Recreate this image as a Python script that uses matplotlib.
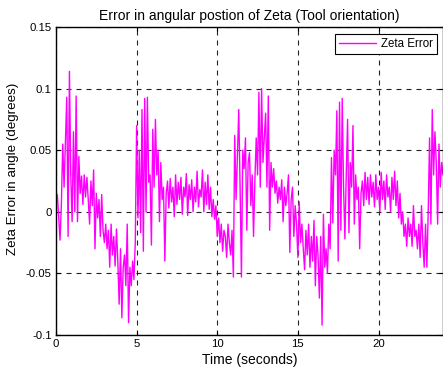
import matplotlib
matplotlib.use("Agg")
import matplotlib.pyplot as plt
import numpy as np

plt.rcParams['font.family'] = ['Liberation Sans', 'DejaVu Sans']

# Zeta error values, 12 samples per second
sec00 = [0.005, 0.014, -0.005, -0.023, 0.006, 0.055, 0.020, 0.058, 0.093, -0.020, 0.114, 0.030]
sec01 = [-0.008, 0.065, 0.000, 0.094, -0.008, 0.045, 0.015, 0.029, 0.006, 0.030, 0.012, 0.028]
sec02 = [0.010, -0.010, 0.025, 0.005, 0.034, -0.030, 0.015, -0.005, 0.010, -0.020, 0.014, -0.015]
sec03 = [-0.025, -0.010, -0.030, -0.015, -0.045, -0.010, -0.035, -0.020, -0.044, -0.014, -0.040, -0.075]
sec04 = [-0.030, -0.086, -0.045, -0.035, -0.060, -0.010, -0.090, -0.045, -0.060, -0.040, -0.055, -0.025]
sec05 = [0.070, -0.005, 0.050, -0.017, 0.083, -0.032, 0.092, 0.000, 0.093, 0.024, 0.030, -0.027]
sec06 = [0.067, 0.020, 0.075, 0.030, 0.050, -0.008, 0.040, 0.010, 0.020, -0.040, 0.015, 0.025]
sec07 = [0.003, 0.027, 0.008, 0.020, -0.004, 0.030, 0.006, 0.024, 0.010, 0.028, -0.002, 0.020]
sec08 = [0.012, 0.031, -0.003, 0.022, 0.010, 0.026, 0.000, 0.020, 0.008, 0.033, 0.004, 0.018]
sec09 = [0.012, 0.034, 0.000, 0.024, 0.006, 0.030, 0.002, 0.020, -0.004, 0.010, -0.006, 0.005]
sec10 = [-0.020, -0.005, -0.025, -0.010, -0.032, -0.015, -0.020, -0.037, -0.010, -0.025, -0.035, -0.015]
sec11 = [-0.053, 0.062, 0.010, 0.045, 0.083, 0.020, -0.053, 0.050, 0.035, 0.060, -0.015, 0.040]
sec12 = [0.048, 0.005, 0.030, -0.020, 0.025, 0.060, 0.030, 0.097, 0.020, 0.100, 0.040, 0.060]
sec13 = [0.080, 0.020, 0.094, -0.015, 0.040, 0.020, 0.035, 0.015, 0.025, 0.007, 0.020, 0.010]
sec14 = [0.026, -0.008, 0.020, 0.005, 0.015, 0.030, -0.033, 0.010, 0.020, -0.020, 0.005, -0.010]
sec15 = [-0.037, 0.008, -0.025, -0.010, -0.030, -0.047, -0.015, -0.035, -0.010, -0.045, -0.020, -0.040]
sec16 = [-0.007, -0.060, -0.020, -0.035, -0.070, -0.020, -0.092, -0.002, -0.045, -0.030, -0.050, -0.010]
sec17 = [-0.030, 0.044, -0.009, 0.050, 0.030, 0.082, -0.040, 0.089, -0.015, 0.092, 0.020, -0.022]
sec18 = [0.030, 0.075, -0.017, 0.040, 0.020, 0.070, -0.010, 0.030, 0.010, 0.020, -0.030, 0.015]
sec19 = [0.025, 0.005, 0.032, 0.010, 0.028, 0.006, 0.030, 0.012, 0.024, 0.004, 0.030, 0.010]
sec20 = [0.020, 0.000, 0.032, 0.010, 0.025, 0.002, 0.030, 0.012, 0.020, 0.000, 0.028, 0.010]
sec21 = [0.033, 0.005, 0.025, -0.005, 0.015, -0.010, 0.000, -0.020, -0.010, -0.028, -0.005, -0.020]
sec22 = [-0.010, -0.028, 0.005, -0.020, -0.015, -0.030, -0.010, -0.037, 0.005, -0.025, -0.045, -0.010]
sec23 = [-0.045, 0.000, 0.060, -0.010, 0.083, 0.030, 0.065, 0.040, -0.010, 0.055, 0.020, 0.040, 0.030]

zeta_error = (sec00 + sec01 + sec02 + sec03 + sec04 + sec05 + sec06 + sec07 + sec08 + sec09 +
              sec10 + sec11 + sec12 + sec13 + sec14 + sec15 + sec16 + sec17 + sec18 + sec19 +
              sec20 + sec21 + sec22 + sec23)
samples_per_second = 12
time = [i / samples_per_second for i in range(len(zeta_error))]

x_ticks = [0, 5, 10, 15, 20]
y_ticks = [-0.1, -0.05, 0, 0.05, 0.1, 0.15]
y_tick_labels = ['-0.1', '-0.05', '0', '0.05', '0.1', '0.15']

fig = plt.figure(figsize=(4.43, 3.74), dpi=100)
ax = fig.add_axes([56/443, 39/374, 387/443, 308/374])

ax.plot(time, zeta_error, color='#FF00FF', lw=1.0, label='Zeta Error')

ax.set_xlim(0, 24)
ax.set_ylim(-0.1, 0.15)
ax.set_xticks(x_ticks)
ax.set_xticklabels([str(v) for v in x_ticks])
ax.set_yticks(y_ticks)
ax.set_yticklabels(y_tick_labels)
ax.tick_params(direction='in', length=3, width=0.8, labelsize=8.2, top=True, right=True, pad=3)
for s in ax.spines.values():
    s.set_linewidth(1.0)
    s.set_color('black')

ax.grid(True, color='#222222', linestyle=(0, (4.5, 4.5)), linewidth=0.8)

ax.set_title('Error in angular postion of Zeta (Tool orientation)', fontsize=10, pad=5)
ax.set_xlabel('Time (seconds)', fontsize=10, labelpad=3)
ax.set_ylabel('Zeta Error in angle (degrees)', fontsize=9.6, labelpad=4)
ax.yaxis.set_label_coords(-0.095, 0.54)

leg = ax.legend(loc='upper right', fontsize=8.3, frameon=True, fancybox=False,
                edgecolor='black', framealpha=1, handlelength=3.2, borderpad=0.35,
                borderaxespad=0, handletextpad=0.4,
                bbox_to_anchor=(0.9845, 0.977))
leg.get_frame().set_linewidth(0.8)

fig.savefig('out.png', dpi=100)
